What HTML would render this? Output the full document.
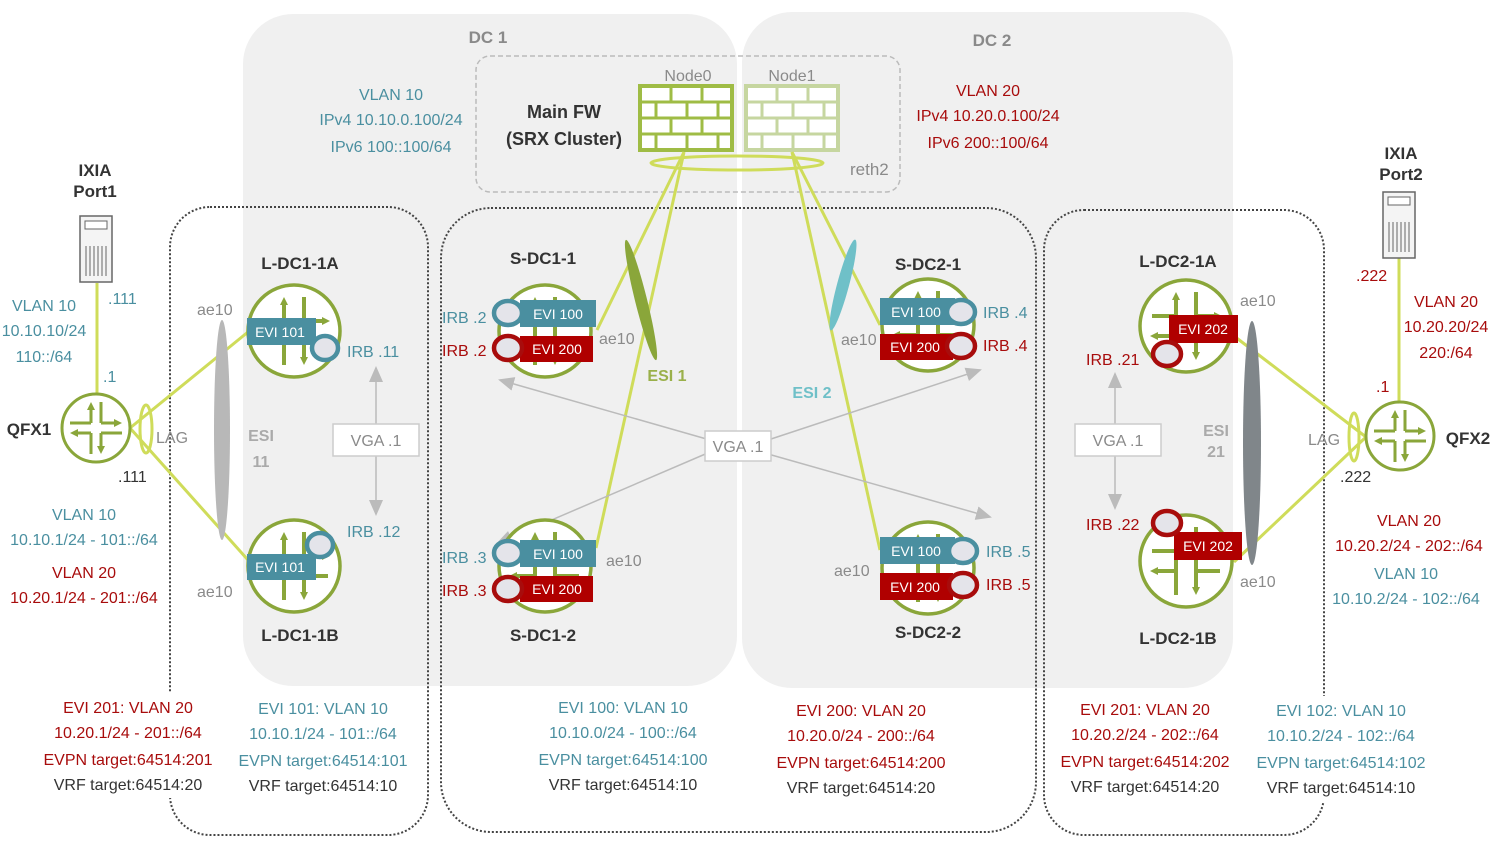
<!DOCTYPE html>
<html><head><meta charset="utf-8"><style>
html,body{margin:0;padding:0;background:#fff;}
svg{display:block;font-family:"Liberation Sans",sans-serif;}
.t{fill:#4a8fa0}.r{fill:#a80c0c}.k{fill:#333}.g{fill:#8a8a8a}.b{font-weight:bold}
</style></head><body>
<svg width="1500" height="843" viewBox="0 0 1500 843" xmlns="http://www.w3.org/2000/svg">
<defs>
<marker id="ah" markerWidth="8" markerHeight="8" refX="4" refY="4" orient="auto" markerUnits="userSpaceOnUse"><path d="M0,0 L8,4 L0,8Z" fill="#8aa63a"/></marker>
<marker id="ga" markerWidth="16" markerHeight="14" refX="14" refY="7" orient="auto" markerUnits="userSpaceOnUse"><path d="M0,0 L16,7 L0,14Z" fill="#bbb"/></marker>
<g id="rt">
<circle r="46" fill="#fff" stroke="#8aa63a" stroke-width="3.5"/>
<g stroke="#8aa63a" stroke-width="4" fill="none">
<path d="M-10,34 V-30" marker-end="url(#ah)"/>
<path d="M10,-34 V30" marker-end="url(#ah)"/>
<path d="M10,-10 H32" marker-end="url(#ah)"/>
<path d="M-10,10 H-32" marker-end="url(#ah)"/>
<path d="M-34,-10 H-10"/><path d="M34,10 H10"/>
</g></g>
<g id="qfx">
<circle r="34" fill="#fff" stroke="#8aa63a" stroke-width="3"/>
<g stroke="#8aa63a" stroke-width="3" fill="none">
<path d="M-5,-5 H-26"/><path d="M-5,-5 V-22" marker-end="url(#ah)"/>
<path d="M5,-5 V-26"/><path d="M5,-5 H22" marker-end="url(#ah)"/>
<path d="M5,5 H26"/><path d="M5,5 V22" marker-end="url(#ah)"/>
<path d="M-5,5 V26"/><path d="M-5,5 H-22" marker-end="url(#ah)"/>
</g></g>
<g id="srv">
<rect x="0" y="0" width="32" height="66" fill="#f4f4f4" stroke="#666" stroke-width="1.5"/>
<rect x="5" y="5" width="22" height="8" fill="#fff" stroke="#666"/>
<g stroke="#666" stroke-width="1"><path d="M6,30V60M10,30V60M14,30V60M18,30V60M22,30V60M26,30V60"/></g>
</g>
<g id="fw">
<rect x="0" y="0" width="92" height="64" fill="#fff" stroke="currentColor" stroke-width="4"/>
<g stroke="currentColor" stroke-width="3"><path d="M0,16H92M0,32H92M0,48H92M31,0V16M62,0V16M16,16V32M47,16V32M78,16V32M31,32V48M62,32V48M16,48V64M47,48V64M78,48V64"/></g>
</g>
</defs>

<!-- DC backgrounds -->
<rect x="243" y="14" width="494" height="672" rx="50" fill="#f0f0f0"/>
<rect x="742" y="12" width="491" height="676" rx="50" fill="#f0f0f0"/>
<text x="488" y="43" font-size="17" class="g b" text-anchor="middle" fill="#999">DC 1</text>
<text x="992" y="46" font-size="17" class="g b" text-anchor="middle">DC 2</text>

<!-- dotted boxes -->
<g fill="none" stroke="#444" stroke-width="2" stroke-dasharray="2,2">
<rect x="170" y="207" width="258" height="628" rx="40"/>
<rect x="441" y="208" width="595" height="624" rx="50"/>
<rect x="1044" y="210" width="280" height="625" rx="40"/>
</g>
<rect x="40" y="692" width="178" height="106" fill="#fff"/>
<rect x="1256" y="696" width="172" height="106" fill="#fff"/>
<rect x="476" y="56" width="424" height="136" rx="14" fill="none" stroke="#bbb" stroke-width="1.5" stroke-dasharray="5,3"/>

<!-- firewalls -->
<use href="#fw" x="640" y="86" style="color:#9fbc45"/>
<use href="#fw" x="746" y="86" style="color:#c6d6a0"/>
<text x="688" y="81" font-size="16" class="g" text-anchor="middle">Node0</text>
<text x="792" y="81" font-size="16" class="g" text-anchor="middle">Node1</text>
<text x="564" y="118" font-size="18" class="k b" text-anchor="middle">Main FW</text>
<text x="564" y="145" font-size="18" class="k b" text-anchor="middle">(SRX Cluster)</text>
<text x="850" y="175" font-size="17" class="g">reth2</text>

<!-- links -->
<g stroke="#cfdc5a" stroke-width="3" fill="none">
<ellipse cx="737" cy="163" rx="86" ry="7"/>
<path d="M684,152 L597,330"/><path d="M684,152 L596,548"/>
<path d="M792,152 L880,325"/><path d="M792,152 L880,550"/>
<path d="M130,428 L248,332"/><path d="M130,428 L248,560"/>
<path d="M97,283 V394"/>
<path d="M1234,336 L1366,437"/><path d="M1234,562 L1366,437"/>
<path d="M1399,258 V402"/>
<ellipse cx="146" cy="429" rx="6" ry="24"/>
<ellipse cx="1354" cy="437" rx="5" ry="24"/>
</g>

<!-- ESIs -->
<ellipse cx="222" cy="430" rx="8" ry="110" fill="#b8b8b8"/>
<ellipse cx="1252" cy="443" rx="9" ry="122" fill="#80868a"/>
<ellipse cx="641" cy="300" rx="6" ry="62" fill="#8aa63a" transform="rotate(-14 641 300)"/>
<ellipse cx="843" cy="285" rx="6" ry="47" fill="#6fc0c8" transform="rotate(15 843 285)"/>

<!-- VGA & arrows -->
<g stroke="#bbb" stroke-width="1.5" fill="none">
<path d="M376,424 V368" marker-end="url(#ga)"/><path d="M376,456 V514" marker-end="url(#ga)"/>
<path d="M1115,424 V374" marker-end="url(#ga)"/><path d="M1115,456 V508" marker-end="url(#ga)"/>
<path d="M710,440 L500,380" marker-end="url(#ga)"/><path d="M710,452 L498,543" marker-end="url(#ga)"/>
<path d="M768,440 L980,370" marker-end="url(#ga)"/><path d="M768,454 L990,517" marker-end="url(#ga)"/>
</g>
<g fill="#fff" stroke="#ccc" stroke-width="1.5">
<rect x="333" y="424" width="86" height="32"/><rect x="705" y="431" width="66" height="30"/><rect x="1075" y="424" width="86" height="32"/>
</g>
<g font-size="16" class="g" text-anchor="middle">
<text x="376" y="446">VGA .1</text><text x="738" y="452">VGA .1</text><text x="1118" y="446">VGA .1</text>
</g>

<!-- routers -->
<use href="#rt" x="294" y="331"/><use href="#rt" x="294" y="566"/>
<use href="#rt" x="545" y="331"/><use href="#rt" x="545" y="566"/>
<use href="#rt" x="928" y="325"/><use href="#rt" x="928" y="568"/>
<use href="#rt" x="1186" y="326"/><use href="#rt" x="1186" y="561"/>
<use href="#qfx" x="96" y="428"/><use href="#qfx" x="1400" y="436"/>
<use href="#srv" x="80" y="216"/><use href="#srv" x="1383" y="192"/>

<!-- EVI tags -->
<g font-size="14" fill="#fff" text-anchor="middle">
<rect x="247" y="318" width="69" height="27" fill="#4a8fa0"/><text x="280" y="337">EVI 101</text>
<rect x="247" y="554" width="69" height="26" fill="#4a8fa0"/><text x="280" y="572">EVI 101</text>
<rect x="520" y="300" width="76" height="27" fill="#4a8fa0"/><text x="558" y="319">EVI 100</text>
<rect x="520" y="336" width="73" height="26" fill="#b00000"/><text x="557" y="354">EVI 200</text>
<rect x="520" y="540" width="76" height="27" fill="#4a8fa0"/><text x="558" y="559">EVI 100</text>
<rect x="520" y="576" width="73" height="26" fill="#b00000"/><text x="557" y="594">EVI 200</text>
<rect x="880" y="298" width="75" height="27" fill="#4a8fa0"/><text x="916" y="317">EVI 100</text>
<rect x="880" y="334" width="73" height="26" fill="#b00000"/><text x="915" y="352">EVI 200</text>
<rect x="880" y="537" width="75" height="27" fill="#4a8fa0"/><text x="916" y="556">EVI 100</text>
<rect x="880" y="573" width="73" height="27" fill="#b00000"/><text x="915" y="592">EVI 200</text>
<rect x="1169" y="315" width="69" height="28" fill="#b00000"/><text x="1203" y="334">EVI 202</text>
<rect x="1174" y="532" width="68" height="28" fill="#b00000"/><text x="1208" y="551">EVI 202</text>
</g>
<g fill="#e4e4ea" stroke-width="4.5">
<ellipse cx="325" cy="348" rx="13" ry="12" stroke="#4a8fa0"/>
<ellipse cx="320" cy="545" rx="13" ry="12" stroke="#4a8fa0"/>
<ellipse cx="508" cy="313" rx="14" ry="12" stroke="#4a8fa0"/>
<ellipse cx="508" cy="348" rx="14" ry="12" stroke="#a80c0c"/>
<ellipse cx="508" cy="553" rx="14" ry="12" stroke="#4a8fa0"/>
<ellipse cx="508" cy="589" rx="14" ry="12" stroke="#a80c0c"/>
<ellipse cx="961" cy="312" rx="14" ry="12" stroke="#4a8fa0"/>
<ellipse cx="961" cy="346" rx="14" ry="12" stroke="#a80c0c"/>
<ellipse cx="963" cy="551" rx="14" ry="12" stroke="#4a8fa0"/>
<ellipse cx="963" cy="585" rx="14" ry="12" stroke="#a80c0c"/>
<ellipse cx="1167" cy="354" rx="14" ry="12" stroke="#a80c0c"/>
<ellipse cx="1167" cy="523" rx="14" ry="12" stroke="#a80c0c"/>
</g>

<!-- node names -->
<g font-size="17" class="k b" text-anchor="middle">
<text x="300" y="269">L-DC1-1A</text><text x="300" y="641">L-DC1-1B</text>
<text x="543" y="264">S-DC1-1</text><text x="543" y="641">S-DC1-2</text>
<text x="928" y="270">S-DC2-1</text><text x="928" y="638">S-DC2-2</text>
<text x="1178" y="267">L-DC2-1A</text><text x="1178" y="644">L-DC2-1B</text>
<text x="95" y="176">IXIA</text><text x="95" y="197">Port1</text>
<text x="1401" y="159">IXIA</text><text x="1401" y="180">Port2</text>
<text x="29" y="435">QFX1</text><text x="1468" y="444">QFX2</text>
</g>
<g font-size="16" class="b" text-anchor="middle" fill="#aaa">
<text x="261" y="441">ESI</text><text x="261" y="467">11</text>
<text x="1216" y="436">ESI</text><text x="1216" y="457">21</text>
</g>
<text x="667" y="381" font-size="16" class="b" fill="#9ab04a" text-anchor="middle">ESI 1</text>
<text x="812" y="398" font-size="16" class="b" fill="#6fc0c8" text-anchor="middle">ESI 2</text>

<!-- small labels -->
<g font-size="16" class="g">
<text x="197" y="315">ae10</text><text x="197" y="597">ae10</text>
<text x="599" y="344">ae10</text><text x="606" y="566">ae10</text>
<text x="841" y="345">ae10</text><text x="834" y="576">ae10</text>
<text x="1240" y="306">ae10</text><text x="1240" y="587">ae10</text>
<text x="156" y="443">LAG</text><text x="1308" y="445">LAG</text>
</g>
<g font-size="16" class="t">
<text x="347" y="357">IRB .11</text><text x="347" y="537">IRB .12</text>
<text x="442" y="323">IRB .2</text><text x="442" y="563">IRB .3</text>
<text x="983" y="318">IRB .4</text><text x="986" y="557">IRB .5</text>
<text x="108" y="304">.111</text><text x="103" y="382">.1</text>
</g>
<g font-size="16" class="r">
<text x="442" y="356">IRB .2</text><text x="442" y="596">IRB .3</text>
<text x="983" y="351">IRB .4</text><text x="986" y="590">IRB .5</text>
<text x="1086" y="365">IRB .21</text><text x="1086" y="530">IRB .22</text>
<text x="1356" y="281">.222</text><text x="1376" y="392">.1</text>
</g>
<text x="118" y="482" font-size="16" class="k">.111</text>
<text x="1340" y="482" font-size="16" class="k">.222</text>

<!-- text blocks -->
<g font-size="16" text-anchor="middle">
<text x="44" y="311" class="t">VLAN 10</text><text x="44" y="336" class="t">10.10.10/24</text><text x="44" y="362" class="t">110::/64</text>
<text x="391" y="100" class="t">VLAN 10</text><text x="391" y="125" class="t">IPv4 10.10.0.100/24</text><text x="391" y="152" class="t">IPv6 100::100/64</text>
<text x="988" y="96" class="r">VLAN 20</text><text x="988" y="121" class="r">IPv4 10.20.0.100/24</text><text x="988" y="148" class="r">IPv6 200::100/64</text>
<text x="1446" y="307" class="r">VLAN 20</text><text x="1446" y="332" class="r">10.20.20/24</text><text x="1446" y="358" class="r">220:/64</text>
<text x="84" y="520" class="t">VLAN 10</text><text x="84" y="545" class="t">10.10.1/24 - 101::/64</text>
<text x="84" y="578" class="r">VLAN 20</text><text x="84" y="603" class="r">10.20.1/24 - 201::/64</text>
<text x="1409" y="526" class="r">VLAN 20</text><text x="1409" y="551" class="r">10.20.2/24 - 202::/64</text>
<text x="1406" y="579" class="t">VLAN 10</text><text x="1406" y="604" class="t">10.10.2/24 - 102::/64</text>

<text x="128" y="713" class="r">EVI 201: VLAN 20</text><text x="128" y="738" class="r">10.20.1/24 - 201::/64</text><text x="128" y="765" class="r">EVPN target:64514:201</text><text x="128" y="790" class="k">VRF target:64514:20</text>
<text x="323" y="714" class="t">EVI 101: VLAN 10</text><text x="323" y="739" class="t">10.10.1/24 - 101::/64</text><text x="323" y="766" class="t">EVPN target:64514:101</text><text x="323" y="791" class="k">VRF target:64514:10</text>
<text x="623" y="713" class="t">EVI 100: VLAN 10</text><text x="623" y="738" class="t">10.10.0/24 - 100::/64</text><text x="623" y="765" class="t">EVPN target:64514:100</text><text x="623" y="790" class="k">VRF target:64514:10</text>
<text x="861" y="716" class="r">EVI 200: VLAN 20</text><text x="861" y="741" class="r">10.20.0/24 - 200::/64</text><text x="861" y="768" class="r">EVPN target:64514:200</text><text x="861" y="793" class="k">VRF target:64514:20</text>
<text x="1145" y="715" class="r">EVI 201: VLAN 20</text><text x="1145" y="740" class="r">10.20.2/24 - 202::/64</text><text x="1145" y="767" class="r">EVPN target:64514:202</text><text x="1145" y="792" class="k">VRF target:64514:20</text>
<text x="1341" y="716" class="t">EVI 102: VLAN 10</text><text x="1341" y="741" class="t">10.10.2/24 - 102::/64</text><text x="1341" y="768" class="t">EVPN target:64514:102</text><text x="1341" y="793" class="k">VRF target:64514:10</text>
</g>
</svg>
</body></html>
